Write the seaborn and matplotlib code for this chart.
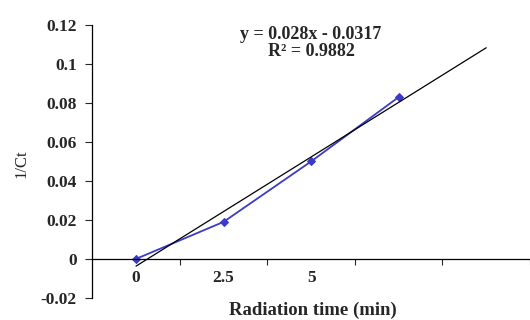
import numpy as np
import pandas as pd
import matplotlib
matplotlib.use("Agg")
import matplotlib.pyplot as plt
import seaborn as sns
from matplotlib.ticker import FixedLocator

# category labels of the x axis (Excel-style category axis)
x_labels = ["0", "2.5", "5", "", ""]
# measured 1/Ct values
inv_ct = [0.0, 0.019, 0.05, 0.083]
# linear trendline as printed on the chart (x = category index 1..n)
slope = 0.028
intercept = -0.0317
y_ticks = [-0.02, 0.0, 0.02, 0.04, 0.06, 0.08, 0.1, 0.12]
y_tick_labels = ["-0.02", "0", "0.02", "0.04", "0.06", "0.08", "0.1", "0.12"]

sns.set_style("ticks")
plt.rcParams['font.family'] = ['Liberation Serif', 'DejaVu Serif']

fig = plt.figure(figsize=(5.3, 3.2), dpi=100)
ax = fig.add_axes([0.174, 0.069, 0.826, 0.853])

df = pd.DataFrame({"pos": np.arange(len(inv_ct)), "val": inv_ct})
sns.lineplot(data=df, x="pos", y="val", ax=ax, color="#3b3bc8", marker="D",
             markersize=4.5, markeredgecolor="#3b3bc8", linewidth=1.3)

# trendline from first category to last category
tx = np.arange(1, len(x_labels) + 1)
ax.plot(tx - 1, slope * tx + intercept, color="black", linewidth=0.9)

ax.set_xlim(-0.5, len(x_labels) - 0.5)
ax.set_ylim(-0.02, 0.12)

# spine position first: it resets the ticks
ax.spines["bottom"].set_position(("data", 0))
ax.spines["top"].set_visible(False)
ax.spines["right"].set_visible(False)
for s in ["left", "bottom"]:
    ax.spines[s].set_linewidth(0.9)
    ax.spines[s].set_color("black")

# labels at category centres, tick marks between categories
ax.set_xticks(np.arange(len(x_labels)))
ax.set_xticklabels(x_labels, fontweight="bold", fontsize=12.5)
ax.xaxis.set_minor_locator(FixedLocator(np.arange(len(x_labels)) + 0.5))
ax.tick_params(axis="x", which="major", length=0, pad=8)
ax.tick_params(axis="x", which="minor", direction="out", length=4, width=0.8)

ax.set_yticks(y_ticks)
ax.set_yticklabels(y_tick_labels, fontweight="bold", fontsize=12.5)
ax.tick_params(axis="y", direction="out", length=5, width=0.8, pad=6)

ax.set_xlabel("")
ax.set_ylabel("")
fig.text(0.04, 0.49, "1/Ct", rotation=90, ha="center", va="center", fontsize=12)
fig.text(0.59, 0.03, "Radiation time (min)", ha="center", va="center",
         fontsize=13.5, fontweight="bold")

ax.text(2.0, 0.1105, "y = 0.028x - 0.0317\nR² = 0.9882", ha="center", va="center",
        fontsize=13, fontweight="bold", linespacing=1.0)

fig.savefig("out.png", dpi=100)
